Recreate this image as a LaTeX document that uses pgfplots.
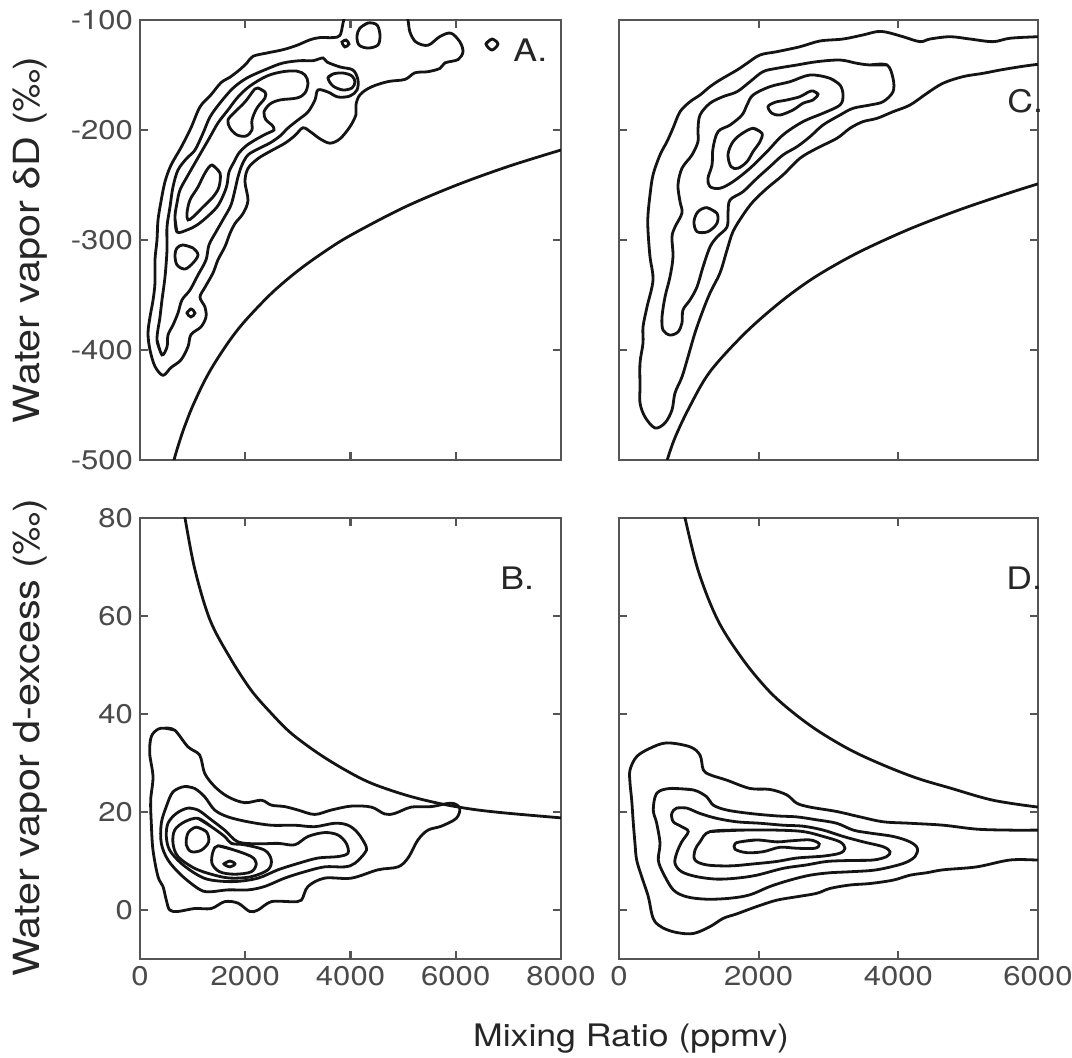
\documentclass[border=0pt]{standalone}
\usepackage{fontspec}
\setmainfont[FakeStretch=1.15]{TeX Gyre Heros}
\usepackage{pgfplots}
\pgfplotsset{compat=1.18}
\definecolor{axgray}{HTML}{555555}
\definecolor{tickgray}{HTML}{4A4A4A}
\definecolor{lbl}{HTML}{262626}

\pgfplotsset{
  panel/.style={
    scale only axis, clip=true,
    axis line style={draw=axgray, line width=1.1pt},
    tick style={draw=axgray, line width=1.1pt},
    tick align=inside, major tick length=4pt,
    tick label style={font=\fontsize{13.5}{15}\selectfont, text=tickgray},
    scaled ticks=false,
  },
  cont/.style={draw=black!92, line width=1.4pt, smooth, tension=0.55},
}

\begin{document}
\begin{tikzpicture}[x=1pt,y=1pt]
\path[use as bounding box] (0,0) rectangle (536,529);

% ---------- A: dD, left ----------
\begin{axis}[panel, at={(70pt,299pt)}, anchor=south west,
  width=210.5pt, height=220pt,
  xmin=0, xmax=8000, ymin=-500, ymax=-100,
  xtick={0,2000,4000,6000,8000}, xticklabels={},
  ytick={-500,-400,-300,-200,-100},
  yticklabels={-500,-400,-300,-200,-100}]
\addplot[cont] coordinates {(3914,-91) (3857,-103) (3800,-114) (3667,-116) (3420,-116) (3230,-118) (2983,-123) (2717,-127) (2413,-130) (2147,-133) (2033,-139) (1900,-145) (1710,-152) (1539,-157) (1349,-168) (1140,-179) (969,-198) (779,-216) (589,-232) (475,-247) (399,-265) (342,-282) (323,-300) (285,-318) (285,-339) (247,-355) (190,-370) (152,-385) (190,-400) (285,-415) (437,-423) (589,-416) (779,-409) (912,-397) (969,-386) (1159,-379) (1254,-370) (1235,-361) (1140,-352) (1235,-343) (1387,-330) (1482,-318) (1615,-306) (1710,-294) (1805,-285) (1957,-276) (2052,-264) (1995,-247) (2052,-235) (2242,-226) (2489,-219) (2755,-212) (2945,-205) (3097,-198) (3249,-202) (3420,-208) (3610,-212) (3800,-208) (3990,-197) (4104,-186) (4104,-177) (4180,-168) (4389,-161) (4712,-156) (5035,-154) (5225,-148) (5472,-147) (5700,-144) (5795,-139) (6042,-136) (6137,-129) (6080,-120) (5909,-112) (5700,-115) (5472,-123) (5244,-120) (5130,-111) (5092,-100) (5035,-91)};
\addplot[cont] coordinates {(418,-404.5) (323,-390.9) (380,-370) (418,-354.5) (475,-333.6) (513,-309.1) (513,-288.2) (570,-270) (627,-251.8) (722,-236.4) (893,-225.5) (1045,-218.2) (1197,-203) (1330,-188.2) (1520,-175.5) (1767,-162) (2033,-152.7) (2413,-144.5) (2717,-139.1) (3040,-137) (3287,-137) (3477,-134.5) (3553,-138.2) (3800,-142.7) (4047,-145.5) (4142,-154.5) (4123,-163.6) (3990,-169.1) (3762,-170) (3572,-165.5) (3382,-163.6) (3325,-172.7) (3192,-183.6) (3002,-190.9) (2812,-198.2) (2660,-205.5) (2470,-211.8) (2242,-217.3) (2052,-222.7) (1938,-231.8) (1862,-242.7) (1805,-254.5) (1729,-268.2) (1596,-280) (1444,-292.7) (1311,-304.5) (1254,-318.2) (1102,-331.8) (950,-345.5) (798,-354.5) (722,-366.4) (627,-377.3) (532,-386.4) (513,-397.3) (418,-404.5) (323,-390.9)};
\addplot[cont] coordinates {(703,-292.7) (665,-279.1) (703,-266.4) (760,-254.5) (893,-242.7) (1045,-230) (1187,-218.2) (1330,-206.4) (1482,-193.6) (1672,-181.8) (1862,-170) (2090,-160) (2413,-150.9) (2717,-147) (2983,-146.5) (3135,-150) (3192,-157.3) (3135,-166.4) (2983,-170.9) (2660,-172.7) (2470,-176.4) (2356,-183.6) (2394,-190.9) (2508,-195.5) (2546,-200) (2394,-203.6) (2185,-209.1) (2014,-214.5) (1881,-220.9) (1786,-229.1) (1691,-238.2) (1653,-250) (1577,-260) (1463,-270) (1273,-279.1) (1083,-286.4) (893,-290.9) (703,-292.7) (665,-279.1)};
\addplot[cont] coordinates {(2242,-161.8) (2375,-165.5) (2375,-170.9) (2223,-180) (2128,-190.9) (2128,-200) (2014,-205.5) (1843,-204.5) (1710,-198.2) (1672,-190.9) (1805,-183.6) (1995,-174.5) (2128,-166) (2185,-162.7) (2242,-161.8) (2375,-165.5)};
\addplot[cont] coordinates {(1368,-231.8) (1520,-239.1) (1501,-251.8) (1387,-260.9) (1197,-270) (1007,-279.1) (912,-281.8) (893,-275.5) (950,-263.6) (1102,-251.8) (1235,-239.1) (1368,-231.8) (1520,-239.1)};
\addplot[cont] coordinates {(3572,-152.7) (3667,-149.1) (3857,-148.2) (4028,-150.9) (4085,-156.4) (4028,-161.8) (3857,-163.6) (3667,-160) (3572,-152.7) (3667,-149.1)};
\addplot[cont] coordinates {(817,-304.5) (1007,-307.3) (1102,-313.6) (1007,-320.9) (855,-326.4) (703,-322.7) (665,-313.6) (703,-307.3) (817,-304.5) (1007,-307.3)};
\addplot[cont] coordinates {(893,-366.4) (969,-362.7) (1045,-366.4) (969,-370) (893,-366.4) (969,-362.7)};
\addplot[cont] coordinates {(4180,-107.3) (4332,-102.7) (4503,-104.5) (4560,-113.6) (4522,-122.7) (4332,-125.5) (4161,-122.7) (4123,-114.5) (4180,-107.3) (4332,-102.7)};
\addplot[cont] coordinates {(3838,-120) (3914,-118.2) (3971,-121.8) (3895,-124.5) (3838,-120) (3914,-118.2)};
\addplot[cont] coordinates {(6574,-121.8) (6688,-117.3) (6802,-121.8) (6688,-127.3) (6574,-121.8) (6688,-117.3)};
% Rayleigh-type line
\addplot[cont] coordinates {(640,-501) (700,-491) (800,-476) (900,-462.9) (1000,-451.1) (1200,-430.6) (1400,-413.4) (1700,-391.6) (2000,-373.4) (2500,-348.4) (3000,-328.0) (3500,-310.8) (4000,-295.8) (5000,-270.8) (6000,-250.4) (7000,-233.1) (8000,-218.2)};
\end{axis}

% ---------- C: dD, right ----------
\begin{axis}[panel, at={(309.5pt,299pt)}, anchor=south west,
  width=209.5pt, height=220pt,
  xmin=0, xmax=6000, ymin=-500, ymax=-100,
  xtick={0,2000,4000,6000}, xticklabels={},
  ytick={-500,-400,-300,-200,-100}, yticklabels={}]
\addplot[cont] coordinates {(6172,-115) (6000,-115.2) (5599,-116.6) (5356,-119.7) (5026,-117.3) (4740,-115.2) (4454,-117.3) (4310,-119.7) (4067,-115.2) (3838,-111.2) (3695,-110.6) (3494,-113.6) (3208,-117.3) (2878,-119.1) (2592,-124.3) (2263,-128.8) (2019,-131.8) (1833,-139.4) (1690,-145.5) (1446,-154.5) (1303,-160.6) (1160,-168.2) (1017,-174.3) (874,-183.4) (773,-198.4) (687,-210.6) (587,-222.7) (487,-240.9) (444,-259.1) (415,-277.3) (415,-291) (444,-315.4) (487,-336.4) (401,-360.9) (344,-379.1) (344,-393.6) (301,-411.8) (301,-433.6) (301,-448.2) (372,-460.9) (516,-470.9) (659,-466.3) (759,-454.5) (802,-439.1) (902,-424.5) (988,-406.3) (1088,-384.5) (1189,-366.3) (1303,-348.2) (1446,-330) (1547,-309.1) (1632,-292.4) (1776,-277.3) (1919,-265.2) (2119,-253) (2348,-240.9) (2592,-225.7) (2835,-216.6) (3122,-207.5) (3308,-198.4) (3494,-192.4) (3695,-189.4) (3924,-183.4) (4167,-177.3) (4411,-166.6) (4640,-157.5) (4926,-151.5) (5212,-148.5) (5456,-145.5) (5742,-142.5) (6000,-140.3) (6172,-139.5)};
\addplot[cont] coordinates {(3838,-140.9) (3594,-140.9) (3408,-139.4) (3165,-136.4) (2835,-137.9) (2549,-140.9) (2263,-143.9) (2062,-147) (1876,-156.1) (1690,-165.2) (1489,-169.7) (1303,-175.7) (1160,-186.4) (1131,-200) (1131,-210.6) (1045,-222.7) (902,-234.8) (845,-250) (874,-265.2) (902,-275.4) (802,-288.2) (759,-297.3) (773,-315.4) (730,-333.6) (659,-351.8) (616,-370) (630,-381.8) (730,-386.4) (845,-383.6) (902,-375.4) (916,-363.6) (1017,-354.5) (1117,-342.7) (1203,-324.5) (1303,-306.4) (1403,-297.3) (1547,-288.2) (1561,-275.4) (1590,-263.6) (1776,-256.1) (1976,-243.9) (2162,-233.3) (2348,-222.7) (2549,-215.2) (2735,-206.1) (2921,-195.5) (3165,-186.4) (3351,-180.3) (3594,-177.3) (3781,-174.3) (3924,-165.2) (3924,-153) (3838,-140.9) (3594,-140.9)};
\addplot[cont] coordinates {(3165,-159.1) (3021,-153) (2735,-150) (2449,-156.1) (2162,-160.6) (1919,-168.2) (1833,-177.3) (1761,-186.4) (1590,-195.5) (1418,-201.5) (1346,-216.6) (1332,-231.8) (1274,-243.9) (1303,-251.5) (1446,-253) (1632,-247) (1876,-234.8) (2119,-219.7) (2348,-204.5) (2635,-192.4) (2921,-184.8) (3165,-177.3) (3208,-168.2) (3165,-159.1) (3021,-153)};
\addplot[cont] coordinates {(2778,-164.5) (2850,-167.5) (2778,-172.7) (2635,-175.7) (2492,-181.8) (2306,-186.4) (2191,-184.8) (2134,-178.8) (2234,-174.8) (2406,-172.7) (2592,-169.7) (2706,-165.7) (2778,-164.5) (2850,-167.5)};
\addplot[cont] coordinates {(1919,-198.4) (2048,-203) (2019,-210.6) (1919,-219.7) (1833,-228.8) (1704,-234.8) (1604,-233.3) (1561,-222.7) (1618,-212.1) (1733,-204.5) (1919,-198.4) (2048,-203)};
\addplot[cont] coordinates {(1260,-270.6) (1403,-275.7) (1403,-284.8) (1274,-292.4) (1117,-292.4) (1074,-283.3) (1131,-274.3) (1260,-270.6) (1403,-275.7)};
\addplot[cont] coordinates {(690,-500) (800,-480) (1000,-453) (1300,-420) (1800,-385) (2300,-357) (2750,-336) (3200,-319) (3600,-306) (4200,-289) (4900,-272) (5600,-257) (6000,-249)};
\end{axis}

% ---------- B: d-excess, left ----------
\begin{axis}[panel, at={(70pt,49.5pt)}, anchor=south west,
  width=210.5pt, height=220.5pt,
  xmin=0, xmax=8000, ymin=-10, ymax=80,
  xtick={0,2000,4000,6000,8000}, xticklabels={0,2000,4000,6000,8000},
  ytick={0,20,40,60,80}, yticklabels={0,20,40,60,80}]
\addplot[cont] coordinates {(469,37.1) (659,36.7) (912,33.3) (1134,31.6) (1229,27.9) (1419,25.2) (1672,23.1) (1989,21.9) (2305,22.4) (2495,21.4) (2749,21.1) (3002,20.4) (3319,19.5) (3635,20.4) (4015,21.2) (4395,21.0) (4649,19.6) (4839,19.7) (5155,21.0) (5535,21.1) (5915,21.8) (6074,20.8) (6010,18.7) (5725,17.1) (5472,16.3) (5282,14.3) (5092,10.6) (4902,8.8) (4522,8.2) (4015,6.5) (3509,6.5) (3192,4.8) (3065,2.0) (2875,1.7) (2495,1.7) (2242,0) (2084,-0.3) (1862,1.4) (1609,1.7) (1355,0.3) (1039,0.3) (722,-0.3) (564,0) (500,2.0) (437,4.8) (342,6.8) (247,12.2) (215,17.7) (203,22.4) (247,27.2) (184,32.0) (215,35.4) (342,36.9) (469,37.1) (659,36.7)};
\addplot[cont] coordinates {(849,25.2) (1039,24.8) (1229,23.1) (1419,20.4) (1672,19.0) (2052,18.0) (2495,17.3) (2939,17.3) (3319,17.0) (3699,17.7) (3952,17.3) (4142,15.7) (4300,12.9) (4269,11.6) (4079,9.5) (3889,8.8) (3509,8.8) (3129,7.8) (2749,6.5) (2369,4.8) (2052,4.1) (1672,4.1) (1292,3.7) (1102,4.4) (785,7.1) (532,10.2) (405,13.6) (405,17.7) (500,21.1) (627,24.1) (849,25.2) (1039,24.8)};
\addplot[cont] coordinates {(912,20.8) (1102,20.4) (1355,18.4) (1609,16.3) (1862,13.9) (2242,13.5) (2622,13.6) (2939,13.3) (3192,15.0) (3509,15.8) (3762,15.3) (3920,13.6) (3952,11.6) (3762,10.9) (3382,10.6) (3002,9.5) (2622,8.2) (2242,6.5) (1799,5.8) (1355,6.1) (1102,7.1) (785,9.5) (564,12.2) (500,15.0) (532,17.7) (690,19.7) (912,20.8) (1102,20.4)};
\addplot[cont] coordinates {(1102,18.7) (1355,17.0) (1609,15.0) (1735,13.6) (1989,13.3) (2369,12.2) (2495,10.2) (2432,8.2) (2115,6.8) (1735,6.5) (1419,7.1) (1039,8.5) (722,10.9) (627,13.6) (659,16.3) (849,18.0) (1102,18.7) (1355,17.0)};
\addplot[cont] coordinates {(1070,16.9) (1260,16.0) (1305,13.9) (1165,12.2) (975,11.9) (880,13.3) (912,15.7) (1070,16.9) (1260,16.0)};
\addplot[cont] coordinates {(1482,13.1) (1799,12.2) (2115,10.9) (2210,9.5) (2115,7.8) (1799,7.3) (1514,7.8) (1368,9.5) (1387,11.9) (1482,13.1) (1799,12.2)};
\addplot[cont] coordinates {(1596,9.4) (1710,10.0) (1805,9.4) (1710,8.8) (1596,9.4) (1710,10.0)};
\addplot[cont] coordinates {(830,82) (855,80) (1045,69.4) (1330,59.2) (1710,51.5) (2109,44.9) (2489,40.2) (2869,36.1) (3382,32.0) (3895,28.6) (4389,25.9) (5035,23.5) (5662,21.8) (6289,20.6) (6935,19.8) (8000,18.8)};
\end{axis}

% ---------- D: d-excess, right ----------
\begin{axis}[panel, at={(309.5pt,49.5pt)}, anchor=south west,
  width=209.5pt, height=220.5pt,
  xmin=0, xmax=6000, ymin=-10, ymax=80,
  xtick={0,2000,4000,6000}, xticklabels={0,2000,4000,6000},
  ytick={0,20,40,60,80}, yticklabels={}]
\addplot[cont] coordinates {(6172,16.3) (6000,16.3) (5599,16.3) (5122,16.5) (4644,17.3) (4167,17.7) (3785,18.0) (3451,19.0) (3117,20.1) (2735,21.0) (2545,21.8) (2401,23.5) (2162,24.6) (1876,24.8) (1542,26.5) (1303,27.6) (1207,28.6) (1160,31.6) (1017,33.3) (683,34.1) (444,33.0) (253,31.3) (158,28.6) (158,25.9) (182,22.4) (205,17.7) (229,13.6) (253,10.2) (325,6.8) (420,2.7) (468,-0.7) (516,-2.4) (634,-3.7) (826,-4.6) (1064,-4.8) (1303,-3.4) (1494,-1.7) (1685,-0.8) (1972,0.7) (2258,2.0) (2545,2.7) (2831,3.4) (3022,4.4) (3308,5.1) (3594,5.4) (3928,6.1) (4167,7.1) (4406,7.6) (4644,8.2) (5122,8.8) (5599,10.2) (6000,10.2) (6172,10.2)};
\addplot[cont] coordinates {(730,24.8) (1064,24.5) (1256,23.1) (1350,21.4) (1542,20.4) (1876,19.7) (2258,19.2) (2545,19.0) (2831,18.4) (3117,17.7) (3355,16.3) (3594,15.7) (3928,15.0) (4167,13.9) (4272,12.6) (4239,10.9) (4071,9.5) (3690,8.2) (3308,7.8) (3022,7.6) (2735,7.1) (2449,6.1) (2162,4.8) (1876,3.1) (1590,2.4) (1256,2.2) (969,2.7) (778,4.1) (634,7.5) (563,10.2) (587,13.6) (540,17.7) (491,20.4) (540,23.8) (730,24.8) (1064,24.5)};
\addplot[cont] coordinates {(826,20.8) (969,20.8) (1160,19.7) (1399,18.7) (1685,18.0) (2019,17.7) (2353,17.3) (2639,17.1) (2926,16.3) (3212,15.0) (3498,13.9) (3785,12.9) (3881,11.9) (3833,10.9) (3642,10.2) (3308,10.1) (2974,9.9) (2688,9.2) (2353,8.5) (1972,7.1) (1685,6.5) (1399,6.3) (1113,6.8) (898,7.8) (802,9.5) (826,11.6) (898,13.9) (992,16.0) (898,17.0) (778,18.0) (755,19.7) (826,20.8) (969,20.8)};
\addplot[cont] coordinates {(1303,16.0) (1780,16.3) (2258,16.3) (2639,16.0) (2926,15.0) (3165,13.9) (3236,12.6) (3165,11.6) (2926,11.0) (2545,10.6) (2258,9.9) (1923,9.4) (1590,9.0) (1256,9.2) (1088,10.2) (1088,12.2) (1160,13.9) (1303,16.0) (1780,16.3)};
\addplot[cont] coordinates {(1733,13.9) (1972,14.3) (2258,13.9) (2449,14.1) (2735,14.3) (2868,13.5) (2807,12.6) (2545,12.6) (2306,12.8) (2066,11.9) (1829,11.7) (1661,12.4) (1661,13.5) (1733,13.9) (1972,14.3)};
\addplot[cont] coordinates {(920,82) (945,80) (1140,69) (1420,59) (1780,51) (2134,44.9) (2449,40.8) (2835,36.7) (3308,32.7) (3780,29.6) (4267,26.9) (4740,24.9) (5356,22.4) (6000,21.0)};
\end{axis}

% labels
\node[rotate=90, font=\fontsize{18}{20}\selectfont, text=lbl] at (15,409) {Water vapor δD (‰)};
\node[rotate=90, font=\fontsize{18}{20}\selectfont, text=lbl] at (15,160) {Water vapor d-excess (‰)};
\node[anchor=base, font=\fontsize{15.5}{18}\selectfont, text=lbl] at (315.5,5.5) {Mixing Ratio (ppmv)};
\node[anchor=base west, font=\fontsize{15.5}{18}\selectfont, text=lbl, inner sep=0] at (256.5,498) {A.};
\node[anchor=base west, font=\fontsize{15.5}{18}\selectfont, text=lbl, inner sep=0] at (503.5,472.5) {C.};
\node[anchor=base west, font=\fontsize{15.5}{18}\selectfont, text=lbl, inner sep=0] at (250,234) {B.};
\node[anchor=base west, font=\fontsize{15.5}{18}\selectfont, text=lbl, inner sep=0] at (503,234) {D.};
\end{tikzpicture}
\end{document}
